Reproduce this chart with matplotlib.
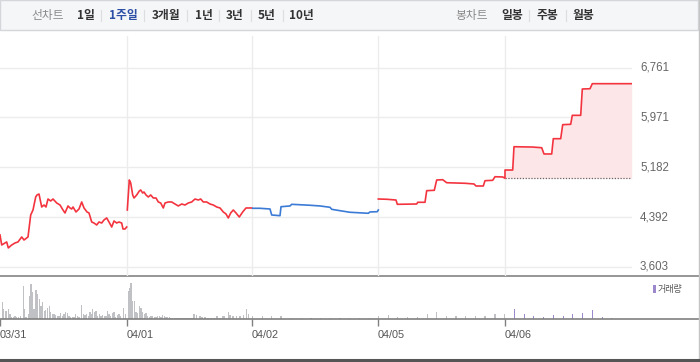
import matplotlib
matplotlib.use("Agg")
import matplotlib.pyplot as plt
from matplotlib.patches import Rectangle

plt.rcParams["font.family"] = ["Liberation Sans", "DejaVu Sans"]
KR = ["Noto Sans CJK KR", "DejaVu Sans"]

W, H = 700, 362

# ---- data (x = time slot, one trading day ~126 slots) ----
day_starts = [0, 127, 252, 378, 505]
day_labels = ["03/31", "04/01", "04/02", "04/05", "04/06"]
price_ticks = [3603, 4392, 5182, 5971, 6761]
prev_close = 5007

t_0331 = [0, 1.7, 5, 6.7, 8.3, 11.7, 15, 18, 21.7, 24, 26.7, 28, 30.7, 33, 35.7, 37, 39,
          41.7, 44, 46, 48, 50.7, 53, 56.7, 60, 63, 65, 68, 70, 71.7, 73, 76, 79, 81.7,
          84, 87, 89, 91.7, 94, 96.7, 99, 101.7, 104, 106.7, 109, 111.7, 114, 116.7,
          119, 121.7, 123, 125, 126.7]
p_0331 = [4110, 3951, 3983, 3999, 3904, 3951, 3983, 3999, 4078, 4030, 4062, 4078, 4426,
          4505, 4711, 4743, 4758, 4553, 4584, 4553, 4679, 4648, 4679, 4616, 4584, 4505,
          4458, 4569, 4537, 4521, 4553, 4474, 4521, 4632, 4537, 4474, 4458, 4315, 4299,
          4268, 4315, 4299, 4347, 4379, 4315, 4236, 4331, 4299, 4315, 4299, 4204, 4204,
          4236]

t_0401 = [127.3, 129.3, 130.7, 132.7, 134, 136.7, 139.3, 140.7, 142.7, 144, 146, 148.3,
          150.7, 153.3, 156, 158.3, 160.7, 163.3, 165, 168.3, 171.7, 175, 178.3, 181.7,
          185, 188.3, 191.7, 195, 198.3, 200.7, 203.3, 206.7, 210, 213.3, 216.7, 220,
          223.3, 226, 228.3, 230.7, 233.3, 236, 239.3, 242.7, 246, 248.3, 251.7]
p_0401 = [4505, 4980, 4933, 4743, 4695, 4743, 4806, 4822, 4774, 4790, 4743, 4711, 4743,
          4695, 4695, 4632, 4616, 4537, 4616, 4632, 4632, 4600, 4569, 4600, 4584, 4616,
          4632, 4679, 4663, 4679, 4632, 4632, 4600, 4584, 4553, 4537, 4474, 4442, 4379,
          4458, 4505, 4458, 4394, 4474, 4537, 4537, 4537]

t_0402 = [252.7, 260, 270, 271.7, 280, 281, 290, 291.7, 310, 320, 330, 331.7, 340, 350,
          368.3, 370, 377.3, 378.3]
p_0402 = [4532, 4532, 4521, 4426, 4415, 4557, 4569, 4595, 4580, 4569, 4548, 4516, 4494,
          4469, 4453, 4474, 4478, 4505]

t_0405 = [378.3, 386.7, 396, 397.3, 416.7, 417.7, 425, 426.7, 434.3, 436.7, 442.7, 446.7,
          465, 474, 476, 483.3, 485, 492.7, 495, 502.7, 505]
p_0405 = [4679, 4675, 4663, 4595, 4600, 4627, 4627, 4811, 4817, 4980, 4985, 4937, 4928,
          4917, 4885, 4885, 4969, 4975, 5032, 5028, 5007]

t_0406 = [505, 512.7, 514, 532.3, 541.7, 544, 551.7, 553.3, 560.7, 562.7, 570.7, 572.3,
          580.7, 582.3, 590, 592.3, 631.7]
p_0406 = [5138, 5138, 5507, 5502, 5491, 5392, 5392, 5634, 5634, 5856, 5862, 6004, 6004,
          6421, 6425, 6505, 6505]

vol_t = [2.3, 3.3, 6, 8.3, 10, 11.7, 13.3, 15, 16.7, 18.3, 20.7, 23.3, 24.3, 26, 28.3,
         29.3, 31, 32.3, 34, 36, 37.3, 39.3, 41, 42.7, 44.3, 45.7, 47.3, 49.3, 50.7, 52.3,
         54, 55.7, 57.3, 59, 60.7, 62.3, 64, 65.7, 67.3, 69, 70.7, 72.3, 74, 75.7, 77.3,
         79, 81.3, 83.3, 85, 86.7, 88.3, 90, 91.7, 92.7, 94.3, 96, 97.7, 99.3, 101, 102.7,
         104.3, 106, 107.3, 109, 110.7, 112.3, 114, 115.7, 117.3, 119, 120.7, 123.3, 125.7,
         128.3, 129.3, 131, 132.7, 134.3, 136, 137.7, 139.3, 141, 142.7, 144.3, 146, 147.7,
         149.3, 151, 152.7, 154.3, 156, 157.7, 159.3, 161, 162.7, 164.3, 166, 167.7, 169.3,
         171, 172.7, 174.3, 176, 178, 180, 182, 184, 186, 188, 190, 192, 194, 196.7, 200,
         202, 205, 208, 211, 214, 217, 220, 222.3, 224, 228.3, 230, 233, 236.7, 240, 243.3,
         246.7, 248.3, 252.3, 262.3, 271.7, 281, 291.7, 301.7, 311, 320.7, 330.7, 340,
         349.3, 359.3, 369.3, 378.3, 388.3, 397.7, 407.7, 417.7, 427.3, 436.7, 446.7, 456,
         465.7, 475.7, 485, 495, 504.3]
vol_v = [16.7, 10, 8, 10, 4.7, 2.3, 2.3, 3.3, 2.3, 1.7, 3, 33, 10, 2.3, 4.7, 23, 35, 27.3,
         10, 29, 24.7, 20, 13.3, 17.3, 8.3, 9, 10.7, 12.7, 7.3, 5.3, 5, 4, 2.7, 3.3, 5.7,
         3.3, 4.7, 7.3, 5.7, 3.3, 2.3, 1.7, 2.3, 4.7, 2.7, 2, 14, 4.7, 4, 4.7, 2.7, 6.7,
         4.7, 10, 7.3, 8, 3.3, 4.7, 3, 4, 3.3, 2.7, 8, 4.7, 2.7, 5.7, 7.3, 2.3, 4, 4.7, 2.7,
         10.7, 5.3, 28, 30.7, 35.7, 18, 18, 6.7, 5.7, 13.3, 11.3, 6.7, 4.7, 5.7, 2.7, 2.3,
         3.3, 2.7, 2, 2.3, 3.3, 2.7, 2.3, 3.7, 3.3, 2.3, 2, 1.7, 1.3, 1, 1, 1, 1, 1, 1, 1,
         1, 1.3, 1.3, 1, 5, 4, 3, 2, 2, 1.3, 1.3, 1.3, 3.3, 1.3, 3.3, 3.3, 6.7, 4, 2.7, 2.7,
         3.3, 4, 10, 5, 3.3, 3.3, 3.3, 3.3, 1, 1, 1, 1, 1, 1, 1, 1, 1, 2.7, 4.3, 1.7, 1.7,
         1.7, 5.3, 7.3, 3.3, 2.7, 2.7, 2.7, 3.3, 5.3, 5.3]
vol06_t = [514.3, 524.3, 533.3, 543.3, 553.3, 563.3, 572.3, 582.3, 592.3, 602.3, 611.7]
vol06_v = [10, 4.7, 3.3, 1.7, 4.3, 3.3, 5.3, 6.3, 9.3, 2.3, 1.3]

RED = "#f3343f"
BLUE = "#3b7bd6"
GRID = "#ececec"


def box(x0, y0, x1, y1):
    return [x0 / W, 1 - y1 / H, (x1 - x0) / W, (y1 - y0) / H]


fig = plt.figure(figsize=(W / 100, H / 100), dpi=100)
fig.patch.set_facecolor("white")

# background / frame layer in pixel coordinates
bg = fig.add_axes([0, 0, 1, 1])
bg.set_xlim(0, W)
bg.set_ylim(H, 0)
bg.axis("off")
bg.add_patch(Rectangle((0, 0), 698, 30, facecolor="#f5f6f8", edgecolor="#d4d6da", lw=1))
bg.plot([698.5, 698.5], [0, 359], color="#c4c4c4", lw=1)
bg.plot([0, 698], [276, 276], color="#8e8e8e", lw=1.3)
bg.plot([0, 700], [360, 360], color="#555555", lw=2.2)

# toolbar texts
left_items = [("1일", 85.5), ("1주일", 123.5), ("3개월", 166), ("1년", 203.5),
              ("3년", 234.5), ("5년", 267), ("10년", 301.5)]
bg.text(48, 15.5, "선차트", family=KR, fontsize=8.5, color="#8a8a8a", ha="center", va="center")
for label, cx in left_items:
    col = "#2c4ea5" if label == "1주일" else "#333333"
    bg.text(cx, 15.5, label, family=KR, fontsize=8.5, fontweight="bold", color=col,
            ha="center", va="center")
for sx in [100.7, 144, 187, 219, 251, 283, 529, 566]:
    bg.plot([sx, sx], [10, 21], color="#dddddd", lw=0.8)
bg.text(471.5, 15.5, "봉차트", family=KR, fontsize=8.5, color="#8a8a8a", ha="center", va="center")
for label, cx in [("일봉", 512), ("주봉", 547.5), ("월봉", 583)]:
    bg.text(cx, 15.5, label, family=KR, fontsize=8.5, fontweight="bold", color="#333333",
            ha="center", va="center")

# volume legend
bg.add_patch(Rectangle((653, 285), 2.6, 8, facecolor="#9c88cc", edgecolor="none"))
bg.text(658, 289.5, "거래량", family=KR, fontsize=6.5, color="#555555", va="center")

# ---- price panel ----
ax = fig.add_axes(box(0, 36, 632, 276))
ax.set_facecolor("none")
ax.set_xlim(0, 632)
ax.set_ylim(3460, 7260)
for s in ax.spines.values():
    s.set_visible(False)
ax.set_xticks([])
ax.set_yticks([])
for p in price_ticks:
    ax.axhline(p, color=GRID, lw=1, zorder=0)
    ax.text(640, p, f"{p:,}", fontsize=8.3, color="#666666", va="center", ha="left",
            clip_on=False)
for d in day_starts[1:]:
    ax.axvline(d, color=GRID, lw=1, zorder=0)

ax.fill_between(t_0406, p_0406, prev_close, color="#fde6e8", lw=0, zorder=1)
ax.plot([t_0406[0], t_0406[-1]], [prev_close, prev_close], color="#666666", lw=0.9,
        linestyle=(0, (1, 1.3)), zorder=2)

ax.plot(t_0331, p_0331, color=RED, lw=1.2, zorder=3)
ax.plot(t_0401, p_0401, color=RED, lw=1.2, zorder=3)
ax.plot(t_0402, p_0402, color=BLUE, lw=1.2, zorder=3)
ax.plot(t_0405 + t_0406, p_0405 + p_0406, color=RED, lw=1.2, zorder=3)

# ---- volume panel ----
av = fig.add_axes(box(0, 276, 698, 319))
av.set_facecolor("none")
av.set_xlim(0, 698)
av.set_ylim(0, 43)
av.bar(vol_t, vol_v, width=1.1, color="#bfc1c5", lw=0, antialiased=False)
av.bar(vol06_t, vol06_v, width=1.4, color="#9c88cc", lw=0, antialiased=False)
for side in ["top", "left", "right"]:
    av.spines[side].set_visible(False)
av.spines["bottom"].set_color("#808080")
av.spines["bottom"].set_linewidth(1.2)
av.set_yticks([])
av.set_xticks(day_starts)
av.set_xticklabels(day_labels)
av.tick_params(axis="x", length=5, width=1, color="#808080", labelsize=7.8,
               labelcolor="#555555", pad=3)
for lab in av.get_xticklabels():
    lab.set_ha("left")

fig.savefig("out.png", dpi=100, facecolor="white")
